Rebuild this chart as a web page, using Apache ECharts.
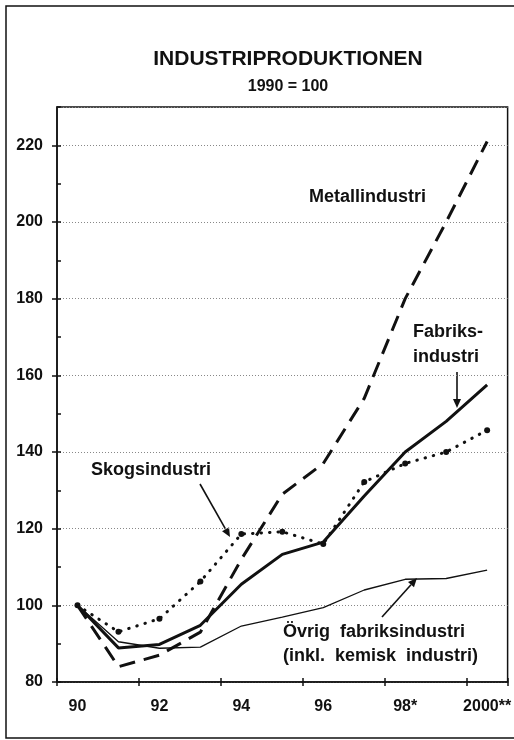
<!DOCTYPE html>
<html>
<head>
<meta charset="utf-8">
<script src="https://cdn.jsdelivr.net/npm/echarts@6/dist/echarts.min.js"></script>
<style>
  html, body { margin: 0; padding: 0; background: #fff; }
  #chart { width: 514px; height: 740px; }
</style>
</head>
<body>
<div id="chart"></div>
<script>
// values (1990 = 100)
var years = ['90', '91', '92', '93', '94', '95', '96', '97', '98*', '99', '2000**'];
var fabriksindustri = [100, 88.9, 89.8, 94.8, 105.5, 113.3, 116.5, 128.5, 140, 148, 157.5];
var metallindustri = [100, 84, 87, 93, 112, 129, 137, 154, 180, 200, 221];
var skogsindustri = [100, 93.1, 96.5, 106.2, 118.6, 119.2, 116, 132.2, 137, 140, 145.7];
var ovrigFabriks = [100, 90.5, 88.8, 89.1, 94.6, 96.9, 99.4, 104, 106.8, 107, 109.2];

var FONT = "'Liberation Sans', Arial, Helvetica, sans-serif";
var INK = '#111';

var chart = echarts.init(document.getElementById('chart'));

// arrow = line + filled head, pixel coords
function arrow(x1, y1, x2, y2) {
    var dx = x2 - x1, dy = y2 - y1;
    var len = Math.sqrt(dx * dx + dy * dy);
    var ux = dx / len, uy = dy / len;
    var hl = 9, hw = 4;
    var bx = x2 - ux * hl, by = y2 - uy * hl;
    return [
        {
            type: 'line',
            shape: { x1: x1, y1: y1, x2: bx, y2: by },
            style: { stroke: INK, lineWidth: 1.6 }
        },
        {
            type: 'polygon',
            shape: { points: [[x2, y2], [bx - uy * hw, by + ux * hw], [bx + uy * hw, by - ux * hw]] },
            style: { fill: INK }
        }
    ];
}

function label(txt, x, y, size, align) {
    return {
        type: 'text',
        x: x,
        y: y,
        style: {
            text: txt,
            font: 'bold ' + size + 'px ' + FONT,
            fill: INK,
            align: align || 'left',
            verticalAlign: 'middle'
        }
    };
}

var graphics = [
    {
        type: 'rect',
        shape: { x: 6, y: 6, width: 530, height: 732 },
        style: { fill: 'none', stroke: INK, lineWidth: 1.5 }
    },
    label('INDUSTRIPRODUKTIONEN', 288, 59, 21, 'center'),
    label('1990 = 100', 288, 87, 16, 'center'),
    label('Metallindustri', 309, 197, 18),
    label('Fabriks-', 413, 332, 18),
    label('industri', 413, 357, 18),
    label('Skogsindustri', 91, 470, 18),
    label('Övrig  fabriksindustri', 283, 632, 18),
    label('(inkl.  kemisk  industri)', 283, 656, 18)
]
    .concat(arrow(457, 372, 457, 408))
    .concat(arrow(200, 484, 230, 537))
    .concat(arrow(382, 617, 417, 578));

var option = {
    animation: false,
    backgroundColor: '#fff',
    grid: {
        left: 57,
        right: 3,
        top: 107,
        bottom: 58,
        show: true,
        borderColor: INK,
        borderWidth: 1.5,
        backgroundColor: 'transparent'
    },
    xAxis: [
        {
            type: 'category',
            data: years,
            boundaryGap: true,
            axisLine: { lineStyle: { color: INK, width: 1.5 } },
            axisTick: { show: true, length: 4, lineStyle: { color: INK, width: 1.5 } },
            axisLabel: {
                interval: 1,
                margin: 17,
                color: INK,
                fontFamily: FONT,
                fontWeight: 'bold',
                fontSize: 16
            },
            splitLine: { show: false }
        },
        {
            type: 'category',
            data: years,
            position: 'bottom',
            boundaryGap: true,
            axisLine: { show: false },
            axisTick: { show: true, inside: true, length: 4, lineStyle: { color: INK, width: 1.5 } },
            axisLabel: { show: false },
            splitLine: { show: false }
        }
    ],
    yAxis: [
        {
            type: 'value',
            min: 80,
            max: 230,
            interval: 20,
            axisLine: { show: true, lineStyle: { color: INK, width: 1.5 } },
            axisTick: { show: true, length: 5, lineStyle: { color: INK, width: 1.5 } },
            axisLabel: {
                margin: 14,
                color: INK,
                fontFamily: FONT,
                fontWeight: 'bold',
                fontSize: 16,
                showMaxLabel: false,
                formatter: function (v) { return v > 220 ? '' : v; }
            },
            splitLine: { show: true, lineStyle: { color: '#888', width: 1, type: [1, 2] } }
        },
        {
            type: 'value',
            min: 80,
            max: 230,
            interval: 10,
            position: 'left',
            axisLine: { show: false },
            axisTick: { show: true, inside: true, length: 4, lineStyle: { color: INK, width: 1.5 } },
            axisLabel: { show: false },
            splitLine: { show: false }
        }
    ],
    series: [
        {
            name: 'Övrig fabriksindustri',
            type: 'line',
            data: ovrigFabriks,
            symbol: 'none',
            lineStyle: { color: INK, width: 1.3 },
            z: 2
        },
        {
            name: 'Skogsindustri',
            type: 'line',
            data: skogsindustri,
            symbol: 'circle',
            symbolSize: 6,
            showSymbol: true,
            itemStyle: { color: INK, borderWidth: 0 },
            lineStyle: { color: INK, width: 3, type: [0.5, 8], cap: 'round' },
            z: 3
        },
        {
            name: 'Metallindustri',
            type: 'line',
            data: metallindustri,
            symbol: 'none',
            lineStyle: { color: INK, width: 3, type: [16, 9] },
            z: 4
        },
        {
            name: 'Fabriksindustri',
            type: 'line',
            data: fabriksindustri,
            symbol: 'none',
            lineStyle: { color: INK, width: 3 },
            z: 5
        }
    ],
    graphic: graphics
};

chart.setOption(option);
</script>
</body>
</html>
